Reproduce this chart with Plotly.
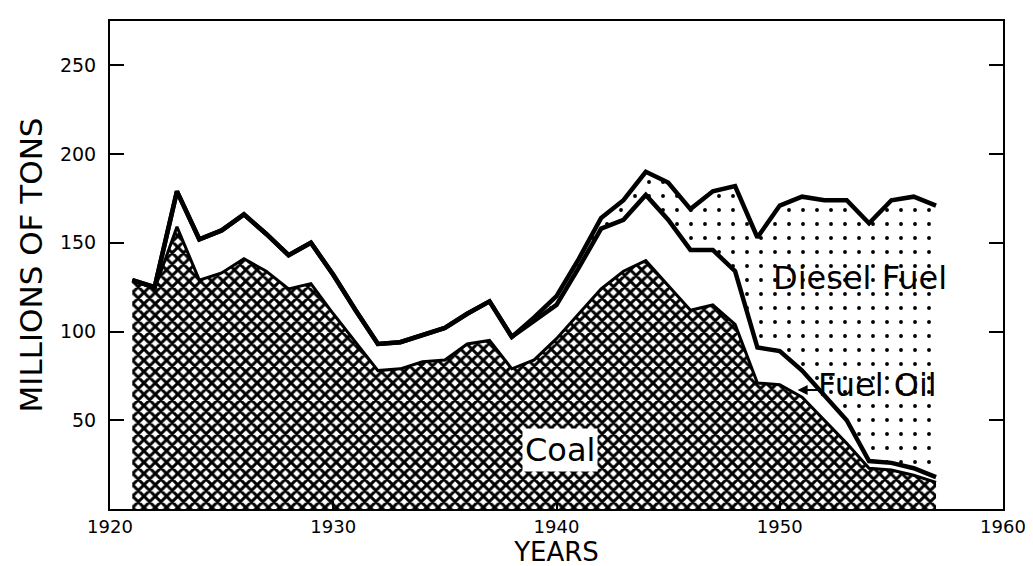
"""Railroad fuel consumption, 1921-1957, as stacked areas."""

import plotly.graph_objects as go

years = list(range(1921, 1958))

coal = [129, 124, 159, 129, 133, 141, 134, 124, 127, 110,
        94, 78, 79, 83, 84, 93, 95, 79, 84, 96,
        110, 124, 134, 140, 126, 112, 115, 104, 71, 70,
        63, 50, 37, 23, 22, 19, 15]

fuel_oil = [0, 1, 20, 23, 24, 25, 21, 19, 23, 22,
            18, 15, 15, 15, 18, 17, 22, 18, 22, 19,
            26, 34, 29, 37, 37, 34, 31, 30, 20, 19,
            15, 14, 13, 4, 4, 4, 3]

diesel = [0, 0, 0, 0, 0, 0, 0, 0, 0, 0,
          0, 0, 0, 0, 0, 0, 0, 0, 2, 5,
          5, 6, 11, 13, 21, 23, 33, 48, 62, 82,
          98, 110, 124, 134, 148, 153, 153]

x_ticks = [1920, 1930, 1940, 1950, 1960]
y_ticks = [50, 100, 150, 200, 250]

FONT = "DejaVu Sans"

fig = go.Figure()

fig.add_trace(go.Scatter(
    x=years, y=coal, name="Coal", stackgroup="fuel", mode="lines",
    line=dict(color="black", width=3),
    fillcolor="white",
    fillpattern=dict(shape="x", fgcolor="black", bgcolor="white",
                     fgopacity=1, size=8, solidity=0.6),
))
fig.add_trace(go.Scatter(
    x=years, y=fuel_oil, name="Fuel Oil", stackgroup="fuel", mode="lines",
    line=dict(color="black", width=4.5),
    fillcolor="white",
))
fig.add_trace(go.Scatter(
    x=years, y=diesel, name="Diesel Fuel", stackgroup="fuel", mode="lines",
    line=dict(color="black", width=4.5),
    fillcolor="white",
    fillpattern=dict(shape=".", fgcolor="black", bgcolor="white",
                     fgopacity=1, size=14, solidity=0.06),
))

# area labels
fig.add_annotation(x=1953.6, y=130, text="Diesel Fuel", showarrow=False,
                   font=dict(family=FONT, size=32, color="black"))
fig.add_annotation(x=1954.4, y=70, text="Fuel Oil", showarrow=False,
                   font=dict(family=FONT, size=32, color="black"))
fig.add_annotation(x=1950.8, y=67, text="", showarrow=True, ax=24, ay=0,
                   arrowhead=2, arrowsize=1, arrowwidth=2, arrowcolor="black")
fig.add_annotation(x=1940.15, y=33, text="Coal", showarrow=False,
                   bgcolor="white", borderpad=2,
                   font=dict(family=FONT, size=32, color="black"))

fig.update_xaxes(
    range=[1920, 1960], tickvals=x_ticks, ticks="inside", ticklen=8,
    tickwidth=2, tickcolor="black", showline=True, linewidth=2, linecolor="black",
    mirror=True, showgrid=False, zeroline=False,
    tickfont=dict(family=FONT, size=18, color="black"),
    title=dict(text="YEARS", font=dict(family=FONT, size=26, color="black"), standoff=0),
)
fig.update_yaxes(
    range=[0, 275], tickvals=y_ticks, ticks="inside", ticklen=14,
    tickwidth=2, tickcolor="black", showline=True, linewidth=2, linecolor="black",
    mirror="ticks", showgrid=False, zeroline=False, ticklabelstandoff=8,
    tickfont=dict(family=FONT, size=19, color="black"),
    title=dict(text="MILLIONS OF TONS", font=dict(family=FONT, size=31, color="black"), standoff=8),
)
fig.update_layout(
    width=1033, height=566,
    margin=dict(l=102, r=38, t=13, b=65),
    paper_bgcolor="white", plot_bgcolor="white",
    showlegend=False, hovermode=False,
)

fig.write_html("out.html")
